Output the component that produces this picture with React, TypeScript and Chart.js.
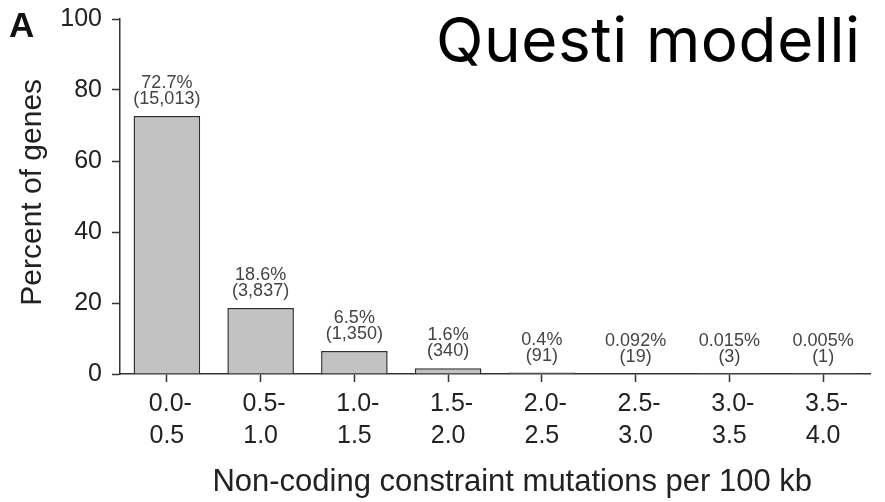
import React, { useEffect, useRef } from "react";
import { Chart, registerables } from "chart.js";

Chart.register(...registerables);

// ---- data ----
const categoryLabels: string[][] = [
  [" 0.0-", "0.5"],
  [" 0.5-", "1.0"],
  [" 1.0-", "1.5"],
  [" 1.5-", "2.0"],
  [" 2.0-", "2.5"],
  [" 2.5-", "3.0"],
  [" 3.0-", "3.5"],
  [" 3.5-", "4.0"],
];
const percentValues: number[] = [72.7, 18.6, 6.5, 1.6, 0.4, 0.092, 0.015, 0.005];
const percentLabels: string[] = ["72.7%", "18.6%", "6.5%", "1.6%", "0.4%", "0.092%", "0.015%", "0.005%"];
const geneCountLabels: string[] = ["(15,013)", "(3,837)", "(1,350)", "(340)", "(91)", "(19)", "(3)", "(1)"];
const yMin = 0;
const yMax = 100;
const yStep = 20;
const xTitle = "    Non-coding constraint mutations per 100 kb";
const yTitle = " Percent of genes";
const panelLetter = "A";
const overlayText = "Questi modelli";

const FONT = "'Liberation Sans', Arial, Helvetica, sans-serif";

const barLabelPlugin = {
  id: "barLabels",
  afterDatasetsDraw(chart: any) {
    const ctx = chart.ctx;
    const meta = chart.getDatasetMeta(0);
    ctx.save();
    ctx.fillStyle = "#444";
    ctx.font = `18px ${FONT}`;
    ctx.textAlign = "center";
    ctx.textBaseline = "alphabetic";
    meta.data.forEach((bar: any, i: number) => {
      const base = bar.y - 12;
      ctx.fillText(geneCountLabels[i], bar.x, base);
      ctx.fillText(percentLabels[i], bar.x, base - 16);
    });
    ctx.restore();
  },
};

const headingPlugin = {
  id: "headings",
  afterDraw(chart: any) {
    const ctx = chart.ctx;
    ctx.save();
    ctx.fillStyle = "#111";
    ctx.textAlign = "left";
    ctx.textBaseline = "alphabetic";
    ctx.font = `bold 35px 'Liberation Sans Narrow', 'Arial Narrow', ${FONT}`;
    ctx.fillText(panelLetter, 9, 37);
    ctx.fillStyle = "#000";
    ctx.font = "62px Inter, 'Noto Sans', sans-serif";
    try {
      (ctx as any).letterSpacing = "0.6px";
    } catch (e) {}
    ctx.fillText(overlayText, 436, 62);
    ctx.restore();
  },
};

export default function App() {
  const canvasRef = useRef<HTMLCanvasElement | null>(null);

  useEffect(() => {
    if (!canvasRef.current) return;
    const chart = new Chart(canvasRef.current, {
      type: "bar",
      data: {
        labels: categoryLabels,
        datasets: [
          {
            data: percentValues,
            backgroundColor: "#c2c2c2",
            borderColor: "#2e2e2e",
            borderWidth: 1.5,
            categoryPercentage: 1,
            barPercentage: 0.71,
          },
        ],
      },
      options: {
        responsive: false,
        animation: false,
        layout: { padding: { left: 0, right: 15, top: 19, bottom: 0 } },
        plugins: {
          legend: { display: false },
          tooltip: { enabled: false },
          title: { display: false },
        },
        scales: {
          x: {
            grid: {
              display: true,
              drawOnChartArea: false,
              offset: false,
              tickLength: 8,
              tickWidth: 1.5,
              tickColor: "#333",
            },
            border: { display: true, color: "#333", width: 1.5 },
            ticks: {
              color: "#222",
              font: { family: FONT, size: 25, lineHeight: 1.28 },
              padding: 6,
              maxRotation: 0,
              autoSkip: false,
            },
            title: {
              display: true,
              text: xTitle,
              color: "#222",
              font: { family: FONT, size: 31 },
              padding: { top: 0, bottom: 1 },
            },
            afterFit(scale: any) {
              scale.height = 128;
              scale.paddingLeft = 0;
              scale.paddingRight = 0;
            },
          },
          y: {
            min: yMin,
            max: yMax,
            ticks: {
              stepSize: yStep,
              color: "#222",
              font: { family: FONT, size: 25 },
              padding: 10,
            },
            grid: {
              display: true,
              drawOnChartArea: false,
              tickLength: 8,
              tickWidth: 1.5,
              tickColor: "#333",
            },
            border: { display: true, color: "#333", width: 1.5 },
            title: {
              display: true,
              text: yTitle,
              color: "#222",
              font: { family: FONT, size: 30 },
              padding: { top: 15, bottom: 0 },
            },
            afterFit(scale: any) {
              scale.width = 120;
              scale.paddingTop = 0;
              scale.paddingBottom = 0;
            },
          },
        },
      },
      plugins: [barLabelPlugin, headingPlugin],
    });
    return () => chart.destroy();
  }, []);

  return (
    <div style={{ position: "absolute", left: 0, top: 0, width: 885, height: 502, background: "#fff" }}>
      <canvas ref={canvasRef} width={885} height={502} style={{ display: "block" }} />
    </div>
  );
}
